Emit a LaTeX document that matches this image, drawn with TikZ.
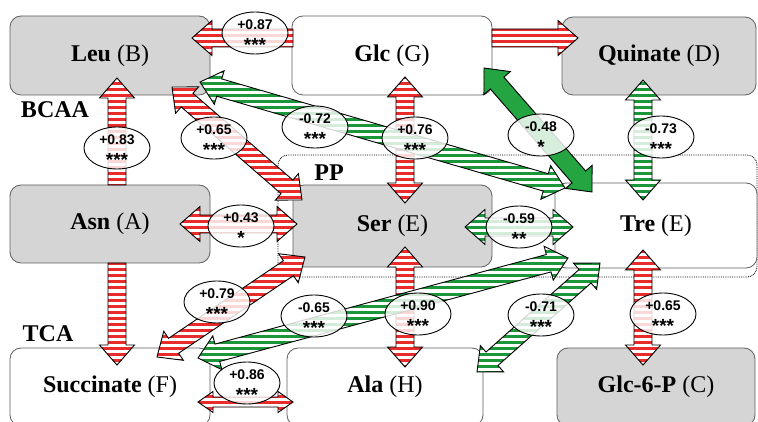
\documentclass[tikz,border=0pt]{standalone}
\usepackage{fontspec}
\setmainfont{Liberation Serif}
\newfontfamily\corrfont{Liberation Sans}
\usetikzlibrary{shapes.geometric,calc}
\definecolor{rA}{RGB}{232,44,44}
\definecolor{gA}{RGB}{28,150,58}
\definecolor{gS}{RGB}{36,165,66}
\definecolor{boxG}{RGB}{213,213,213}
\definecolor{boxE}{RGB}{95,95,95}

\newcommand\bas{9}\newcommand\baH{17.5}\newcommand\bah{20}
\newcommand\baShape[2]{%
  \ifnum#2=2
    \path[#1] (\bah pt,-\bas pt) -- (\bab pt,-\bas pt) -- (\bab pt,-\baH pt) -- (\balen pt,0pt) -- (\bab pt,\baH pt) -- (\bab pt,\bas pt) -- (\bah pt,\bas pt) -- (\bah pt,\baH pt) -- (0pt,0pt) -- (\bah pt,-\baH pt) -- cycle;
  \else
    \path[#1] (0pt,-\bas pt) -- (\bab pt,-\bas pt) -- (\bab pt,-\baH pt) -- (\balen pt,0pt) -- (\bab pt,\baH pt) -- (\bab pt,\bas pt) -- (0pt,\bas pt) -- cycle;
  \fi}
% #1 base fill, #2 stripe colour, #3 from, #4 to, #5 number of heads
\newcommand\barrow[5]{%
  \pgfpointanchor{#3}{center}\pgfgetlastxy{\bax}{\bay}%
  \pgfpointanchor{#4}{center}\pgfgetlastxy{\bbx}{\bby}%
  \pgfmathsetmacro\baang{atan2((\bby)-(\bay),(\bbx)-(\bax))}%
  \pgfmathsetmacro\balen{veclen((\bbx)-(\bax),(\bby)-(\bay))}%
  \pgfmathsetmacro\bab{\balen-\bah}%
  \begin{scope}[shift={(#3)},rotate=\baang]
    \baShape{fill=#1}{#5}
    \begin{scope}
      \baShape{clip}{#5}
      \draw[line width=3pt,#2,reset cm] \foreach \yy in {0,-6,...,-426}{(0pt,\yy pt)--(760pt,\yy pt)};
    \end{scope}
    \baShape{draw=black,line width=0.9pt,line join=miter}{#5}
  \end{scope}}
\newcommand\corr[4]{%
  \node[corrE] (#1) at (#2) {};
  \node[corrV] (#1v) at ($(#1.center)+(0,-8)$) {#3};
  \node[corrS] (#1s) at ($(#1.center)+(0,12)$) {#4};}

\begin{document}
\begin{tikzpicture}[x=1pt,y=-1pt,
  gbox/.style={draw=boxE,line width=0.8pt,fill=boxG,rounded corners=11,inner sep=0,font=\fontsize{24}{28}\selectfont},
  wbox/.style={gbox,fill=white},
  grp/.style={font=\fontsize{24}{28}\selectfont\bfseries,inner sep=0},
  corrE/.style={ellipse,draw=black,line width=0.9pt,fill=white,fill opacity=0.82,minimum width=66,minimum height=42,inner sep=0},
  corrV/.style={font=\corrfont\bfseries\fontsize{14}{16}\selectfont,inner sep=0},
  corrS/.style={font=\corrfont\bfseries\fontsize{19}{20}\selectfont,inner sep=0}]
\useasboundingbox (0,0) rectangle (758,422);
\fill[white] (0,0) rectangle (758,422);

% PP region
\draw[densely dotted,line width=0.8pt,rounded corners=10] (278,155) rectangle (757,277);

% boxes
\node[gbox,minimum width=200,minimum height=79] (leu) at (110,55.5) {\textbf{Leu} (B)};
\node[wbox,minimum width=200,minimum height=79] (glc) at (392,55.5) {\textbf{Glc} (G)};
\node[gbox,minimum width=194,minimum height=78] (quin) at (659,56) {\textbf{Quinate} (D)};
\node[gbox,minimum width=200,minimum height=78] (asn) at (110,224) {\textbf{Asn} (A)};
\node[gbox,minimum width=199,minimum height=82] (ser) at (392.5,226) {\textbf{Ser} (E)};
\node[wbox,minimum width=202,minimum height=85] (tre) at (656,225.5) {\textbf{Tre} (E)};
\node[wbox,minimum width=200,minimum height=78] (succ) at (110,387) {\textbf{Succinate} (F)};
\node[wbox,minimum width=196,minimum height=78] (ala) at (385,387) {\textbf{Ala} (H)};
\node[gbox,minimum width=198,minimum height=78] (g6p) at (656,387) {\textbf{Glc-6-P} (C)};

% arrow end points
\coordinate (a1s) at (293,38);  \coordinate (a1e) at (192,38);
\coordinate (a2s) at (492,38);  \coordinate (a2e) at (578,38);
\coordinate (a3s) at (117,185); \coordinate (a3e) at (117,78);
\coordinate (a4s) at (172,87);  \coordinate (a4e) at (302,200);
\coordinate (a5s) at (200,82);  \coordinate (a5e) at (565,188);
\coordinate (a6s) at (405,77);  \coordinate (a6e) at (405,203);
\coordinate (a7s) at (484,68);  \coordinate (a7e) at (592,192);
\coordinate (a8s) at (643,80);  \coordinate (a8e) at (643,200);
\coordinate (a9s) at (180,224); \coordinate (a9e) at (297,224);
\coordinate (a10s) at (465,227); \coordinate (a10e) at (573,227);
\coordinate (a11s) at (405,247); \coordinate (a11e) at (405,367);
\coordinate (a12s) at (305,257); \coordinate (a12e) at (157,357);
\coordinate (a13s) at (568,258); \coordinate (a13e) at (198,358);
\coordinate (a14s) at (600,263); \coordinate (a14e) at (477,372);
\coordinate (a15s) at (643,250); \coordinate (a15e) at (643,365);
\coordinate (a16s) at (117,263); \coordinate (a16e) at (117,365);
\coordinate (a17s) at (198,402); \coordinate (a17e) at (293,402);

% arrows
\barrow{white}{rA}{a16s}{a16e}{1}
\barrow{white}{rA}{a3s}{a3e}{1}
\barrow{white}{rA}{a1s}{a1e}{1}
\barrow{white}{rA}{a2s}{a2e}{1}
\barrow{white}{rA}{a6s}{a6e}{2}
\barrow{white}{rA}{a11s}{a11e}{2}
\barrow{white}{rA}{a9s}{a9e}{2}
\barrow{white}{gA}{a10s}{a10e}{2}
\barrow{white}{gA}{a8s}{a8e}{2}
\barrow{white}{rA}{a15s}{a15e}{2}
\barrow{white}{rA}{a4s}{a4e}{2}
\barrow{white}{rA}{a12s}{a12e}{2}
\barrow{white}{gA}{a5s}{a5e}{2}
\barrow{white}{gA}{a13s}{a13e}{2}
\barrow{white}{gA}{a14s}{a14e}{2}
\barrow{gS}{gS}{a7s}{a7e}{2}
\renewcommand\bas{5}\renewcommand\baH{10.5}\renewcommand\bah{15}
\barrow{white}{rA}{a17s}{a17e}{2}

% correlation labels
\corr{c1}{255,33}{+0.87}{***}
\corr{c2}{117,148}{+0.83}{***}
\corr{c3}{214,138}{+0.65}{***}
\corr{c4}{315,127}{-0.72}{***}
\corr{c5}{415,138}{+0.76}{***}
\corr{c6}{541,135}{-0.48}{*}
\corr{c7}{661,137}{-0.73}{***}
\corr{c8}{241,226}{+0.43}{*}
\corr{c9}{519,227}{-0.59}{**}
\corr{c10}{217,302}{+0.79}{***}
\corr{c11}{314,316}{-0.65}{***}
\corr{c12}{418,314}{+0.90}{***}
\corr{c13}{541,315}{-0.71}{***}
\corr{c14}{663,314}{+0.65}{***}
\corr{c15}{247,383}{+0.86}{***}

% group labels
\node[grp] (bcaa) at (55,110) {BCAA};
\node[grp] (tca) at (48,334) {TCA};
\node[grp] (pp) at (329,173) {PP};
\end{tikzpicture}
\end{document}
